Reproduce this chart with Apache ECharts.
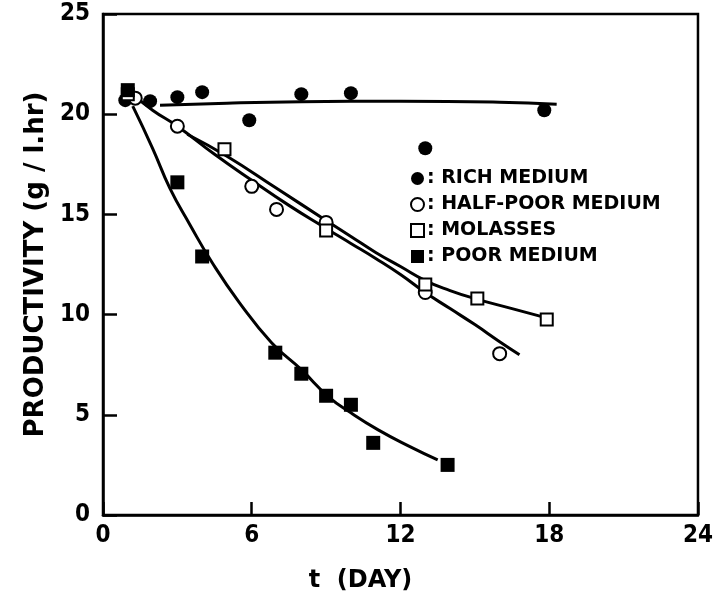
<!DOCTYPE html>
<html>
<head>
<meta charset="utf-8">
<script src="https://cdn.jsdelivr.net/npm/echarts@6/dist/echarts.min.js"></script>
<style>html,body{margin:0;padding:0;background:#fff}#c{width:716px;height:598px}</style>
</head>
<body>
<div id="c"></div>
<script>
var xTicks = [0, 6, 12, 18, 24];
var yTicks = [0, 5, 10, 15, 20, 25];
var seriesNames = ['RICH MEDIUM', 'HALF-POOR MEDIUM', 'MOLASSES', 'POOR MEDIUM'];

var richPts = [[0.9,20.7],[1.9,20.65],[3,20.85],[4,21.1],[5.9,19.7],[8,21.0],[10,21.05],[13,18.3],[17.8,20.2]];
var halfPoorPts = [[1.3,20.8],[3,19.4],[6,16.4],[7,15.25],[9,14.6],[13,11.1],[16,8.05]];
var molassesPts = [[1.0,21.0],[4.9,18.25],[9,14.2],[13,11.5],[15.1,10.8],[17.9,9.75]];
var poorPts = [[1.0,21.2],[3,16.6],[4,12.9],[6.95,8.1],[8,7.05],[9,5.95],[10,5.5],[10.9,3.6],[13.9,2.5]];

var richCurve = [[2.3,20.45],[5,20.55],[8,20.62],[12,20.65],[16,20.6],[18.3,20.5]];
var halfPoorCurve = [[1.2,21.0],[2,20.2],[3,19.4],[4.5,18.0],[6,16.7],[7.5,15.45],[9,14.3],[10,13.55],[11,12.8],[12,12.0],[13,11.1],[14,10.3],[15,9.5],[16,8.65],[16.8,8.0]];
var molassesCurve = [[3.4,19.0],[5,17.9],[7,16.3],[9,14.7],[10,13.9],[11,13.1],[12,12.4],[13,11.7],[14,11.2],[15,10.8],[16.5,10.3],[18,9.8]];
var poorCurve = [[1.2,20.4],[2,18.3],[2.7,16.3],[3.5,14.5],[4.4,12.6],[5.5,10.6],[6.8,8.6],[8,7.25],[9.1,5.9],[10,5.1],[11.1,4.25],[12.4,3.4],[13.5,2.75]];

var chart = echarts.init(document.getElementById('c'), null, {renderer: 'canvas'});
var bold = {color: '#000', fontWeight: 'bold', fontFamily: 'DejaVu Sans'};
function curve(d) {
  return {type: 'line', data: d, smooth: true, showSymbol: false, silent: true, z: 2,
    lineStyle: {color: '#000', width: 3}};
}
function pts(name, sym, size, d) {
  var empty = sym.indexOf('empty') === 0;
  return {type: 'scatter', name: name, data: d, symbol: sym, symbolSize: size, z: 5,
    itemStyle: {color: '#000', borderColor: '#000', borderWidth: empty ? 3 : 0, opacity: 1}};
}
chart.setOption({
  animation: false,
  backgroundColor: '#fff',
  grid: {left: 103, right: 12, top: 14, bottom: 83, show: true, borderColor: '#000', borderWidth: 2.5},
  legend: {
    orient: 'vertical', left: 405, top: 164, itemGap: 7, itemWidth: 13, itemHeight: 13,
    data: seriesNames,
    formatter: function (n) { return ': ' + n; },
    textStyle: Object.assign({fontSize: 19, padding: [0, 0, 0, -2]}, bold)
  },
  xAxis: {
    type: 'value', min: 0, max: 24, interval: 6,
    name: 't  (DAY)', nameLocation: 'middle', nameGap: 54,
    nameTextStyle: Object.assign({fontSize: 24, padding: [0, 80, 0, 0]}, bold),
    axisLine: {show: true, lineStyle: {color: '#000', width: 2.5}},
    axisTick: {show: true, inside: true, length: 13, lineStyle: {color: '#000', width: 2.5}},
    axisLabel: Object.assign({fontSize: 24, margin: 9, fontFamily: 'DejaVu Sans Condensed',
      formatter: function (v) { return xTicks.indexOf(v) >= 0 ? String(v) : ''; }}, {color: '#000', fontWeight: 'bold'}),
    splitLine: {show: false}
  },
  yAxis: {
    type: 'value', min: 0, max: 25, interval: 5,
    name: 'PRODUCTIVITY (g / l.hr)', nameLocation: 'middle', nameGap: 54, nameRotate: 90,
    nameTextStyle: Object.assign({fontSize: 26}, bold),
    axisLine: {show: true, lineStyle: {color: '#000', width: 2.5}},
    axisTick: {show: true, inside: true, length: 14, lineStyle: {color: '#000', width: 2.5}},
    axisLabel: Object.assign({fontSize: 24, margin: 13, fontFamily: 'DejaVu Sans Condensed',
      formatter: function (v) { return yTicks.indexOf(v) >= 0 ? String(v) : ''; }}, {color: '#000', fontWeight: 'bold'}),
    splitLine: {show: false}
  },
  series: [
    curve(richCurve), curve(halfPoorCurve), curve(molassesCurve), curve(poorCurve),
    pts(seriesNames[0], 'circle', 14, richPts),
    pts(seriesNames[1], 'emptyCircle', 13, halfPoorPts),
    pts(seriesNames[2], 'emptyRect', 12, molassesPts),
    pts(seriesNames[3], 'rect', 14, poorPts)
  ]
});
</script>
</body>
</html>
